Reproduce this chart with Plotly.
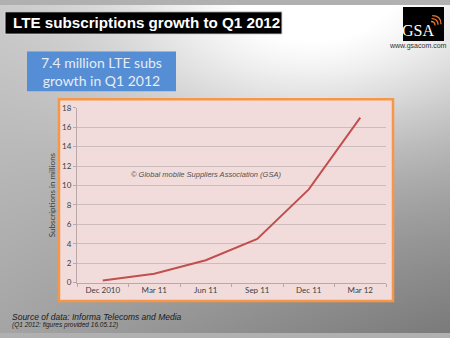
import base64, struct, zlib
import numpy as np
import plotly.graph_objects as go

# ---- data ----
categories = ["Dec 2010", "Mar 11", "Jun 11", "Sep 11", "Dec 11", "Mar 12"]
subs_millions = [0.2, 0.9, 2.3, 4.5, 9.6, 17.0]
y_ticks = [0, 2, 4, 6, 8, 10, 12, 14, 16, 18]

W, H = 450, 338

# ---- background gradient as png ----
def make_png(arr):
    h, w = arr.shape
    raw = b"".join(b"\x00" + arr[i].astype(np.uint8).tobytes() for i in range(h))
    def chunk(t, d):
        c = struct.pack(">I", len(d)) + t + d
        return c + struct.pack(">I", zlib.crc32(t + d) & 0xffffffff)
    png = b"\x89PNG\r\n\x1a\n"
    png += chunk(b"IHDR", struct.pack(">IIBBBBB", w, h, 8, 0, 0, 0, 0))
    png += chunk(b"IDAT", zlib.compress(raw, 9))
    png += chunk(b"IEND", b"")
    return "data:image/png;base64," + base64.b64encode(png).decode()

yy, xx = np.mgrid[0:H, 0:W].astype(float)
fx, fy = xx / W, yy / H
base = (200 * (1 - fx) * (1 - fy) + 210 * fx * (1 - fy)
        + 165 * (1 - fx) * fy + 122 * fx * fy)
hl = 58 * np.exp(-(((xx - 310) / 130) ** 2 / 2 + ((yy - 15) / 90) ** 2 / 2))
bg = np.clip(base + hl, 0, 255)
bg_src = make_png(bg)

def px(x):
    return x / W

def py(y):
    return 1 - y / H

fig = go.Figure()
fig.add_trace(go.Scatter(
    x=categories, y=subs_millions, mode="lines",
    line=dict(color="#c0504d", width=2), hoverinfo="x+y", showlegend=False,
))

shapes = [
    # chart box
    dict(type="rect", xref="paper", yref="paper", x0=px(59), x1=px(393), y0=py(305), y1=py(97),
         fillcolor="#f2dcdb", line=dict(color="#f79646", width=2.5), layer="below"),
    # title box
    dict(type="rect", xref="paper", yref="paper", x0=px(5), x1=px(282), y0=py(30), y1=py(7),
         fillcolor="#000000", line=dict(color="#d8d8d8", width=1)),
    # blue box
    dict(type="rect", xref="paper", yref="paper", x0=px(27), x1=px(176), y0=py(89), y1=py(48),
         fillcolor="#558ed5", line=dict(width=0)),
    # logo box
    dict(type="rect", xref="paper", yref="paper", x0=px(403), x1=px(444), y0=py(37), y1=py(2),
         fillcolor="#000000", line=dict(width=0)),
]
# logo arcs
for r in (5, 8, 11):
    cx, cy = 430, 22
    shapes.append(dict(
        type="path", xref="paper", yref="paper",
        path=f"M {px(cx + r*0.2)},{py(cy - r)} Q {px(cx + r)},{py(cy - r)} {px(cx + r)},{py(cy - r*0.2)}",
        line=dict(color="#e8762c", width=1.3)))

annotations = [
    dict(text="<b>LTE subscriptions growth to Q1 2012</b>", xref="paper", yref="paper",
         x=px(11), y=py(18.5), xanchor="left", yanchor="middle", showarrow=False,
         font=dict(family="Liberation Sans, Arial", size=15.2, color="#ffffff")),
    dict(text="7.4 million LTE subs<br>growth in Q1 2012", xref="paper", yref="paper",
         x=px(101.5), y=py(68.5), xanchor="center", yanchor="middle", showarrow=False,
         font=dict(family="Lato", size=14, color="#e6ecf4")),
    dict(text="GSA", xref="paper", yref="paper", x=px(418), y=py(26), xanchor="center",
         yanchor="middle", showarrow=False,
         font=dict(family="Liberation Serif, DejaVu Serif", size=16, color="#ffffff")),
    dict(text="www.gsacom.com", xref="paper", yref="paper", x=px(418), y=py(42.5),
         xanchor="center", yanchor="middle", showarrow=False,
         font=dict(family="Liberation Sans, Arial", size=7, color="#303030")),
    dict(text="Subscriptions in millions", xref="paper", yref="paper", x=px(52), y=py(196),
         xanchor="center", yanchor="middle", textangle=-90, showarrow=False,
         font=dict(family="Lato", size=8, color="#404040")),
    dict(text="<i>© Global mobile Suppliers Association (GSA)</i>", xref="x", yref="y",
         x="Jun 11", y=11.1, xanchor="center", yanchor="middle", showarrow=False,
         font=dict(family="Liberation Sans, Arial", size=7.5, color="#505050")),
    dict(text="<i>Source of data: Informa Telecoms and Media</i>", xref="paper", yref="paper",
         x=px(10), y=py(321), xanchor="left", yanchor="middle", showarrow=False,
         font=dict(family="Liberation Sans, Arial", size=8.5, color="#1a1a1a")),
    dict(text="<i>(Q1 2012: figures provided 16.05.12)</i>", xref="paper", yref="paper",
         x=px(10), y=py(330), xanchor="left", yanchor="middle", showarrow=False,
         font=dict(family="Liberation Sans, Arial", size=6.5, color="#1a1a1a")),
]

fig.update_layout(
    width=W, height=H,
    margin=dict(l=0, r=0, t=0, b=0),
    paper_bgcolor="#b0b0b0",
    plot_bgcolor="rgba(0,0,0,0)",
    images=[dict(source=bg_src, xref="paper", yref="paper", x=0, y=1, sizex=1, sizey=1,
                 xanchor="left", yanchor="top", sizing="stretch", layer="below")],
    shapes=shapes,
    annotations=annotations,
    xaxis=dict(domain=[px(77), px(386)], type="category", range=[-0.5, 5.5],
               showgrid=False, showline=True, linecolor="#b8a8a8", linewidth=1,
               ticks="outside", tickson="boundaries", ticklen=3, tickcolor="#b8a8a8",
               tickfont=dict(family="Lato", size=8, color="#404040"), fixedrange=True),
    yaxis=dict(domain=[py(286), py(106)], range=[0, 18], tickvals=y_ticks,
               showgrid=True, gridcolor="#cdbcbc", gridwidth=1,
               showline=True, linecolor="#b8a8a8", linewidth=1, zeroline=False,
               ticks="outside", ticklen=3, tickcolor="#b8a8a8",
               tickfont=dict(family="Lato", size=8, color="#404040"), fixedrange=True),
)

fig.write_html("out.html")
